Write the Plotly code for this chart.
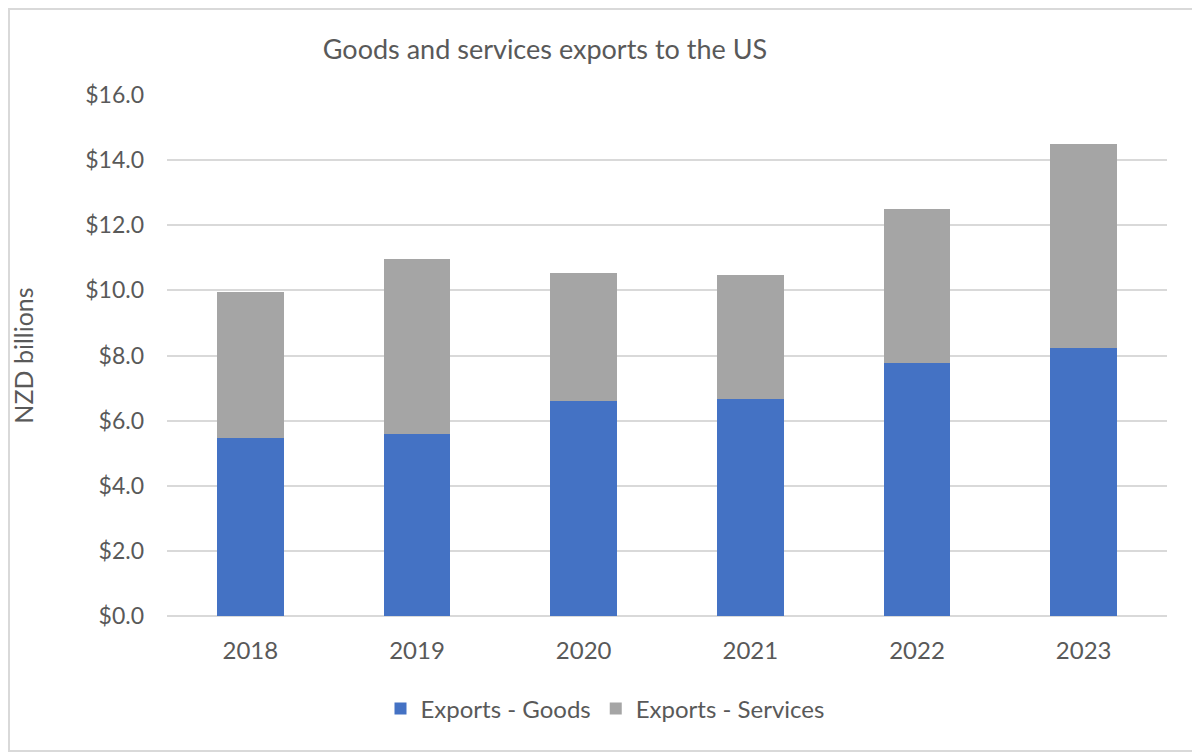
import plotly.graph_objects as go

YEARS = ["2018", "2019", "2020", "2021", "2022", "2023"]
GOODS = [5.48, 5.60, 6.60, 6.67, 7.78, 8.24]
SERVICES = [4.46, 5.36, 3.92, 3.80, 4.72, 6.25]
Y_TICKS = [0, 2, 4, 6, 8, 10, 12, 14, 16]
Y_TICK_LABELS = [f"${v:.1f}" for v in Y_TICKS]

# the page body adds an 8px margin, so the figure is drawn 8px smaller
PAGE_PAD = 8
WIDTH, HEIGHT = 1200 - PAGE_PAD, 754 - PAGE_PAD
MARGIN = {"l": 167 - PAGE_PAD, "r": 33, "t": 95 - PAGE_PAD, "b": 138}
TEXT = "#595959"
GRID = "#D9D9D9"


def build_figure() -> go.Figure:
    fig = go.Figure()
    fig.add_trace(
        go.Bar(
            name="Exports - Goods",
            x=YEARS,
            y=GOODS,
            marker={"color": "#4472C4", "line": {"width": 0}},
        )
    )
    fig.add_trace(
        go.Bar(
            name="Exports - Services",
            x=YEARS,
            y=SERVICES,
            marker={"color": "#A5A5A5", "line": {"width": 0}},
        )
    )

    plot_w = WIDTH - MARGIN["l"] - MARGIN["r"]
    plot_h = HEIGHT - MARGIN["t"] - MARGIN["b"]
    border = {
        "type": "rect",
        "xref": "paper",
        "yref": "paper",
        "x0": (1 - MARGIN["l"]) / plot_w,
        "x1": (WIDTH - 2 - MARGIN["l"]) / plot_w,
        "y0": -(MARGIN["b"] - 3) / plot_h,
        "y1": 1 + (MARGIN["t"] - 1) / plot_h,
        "line": {"color": GRID, "width": 2},
        "layer": "below",
    }

    fig.update_layout(
        width=WIDTH,
        height=HEIGHT,
        barmode="stack",
        bargap=0.6,
        paper_bgcolor="white",
        plot_bgcolor="white",
        font={"family": "Lato", "color": TEXT, "size": 23},
        margin=MARGIN,
        title={
            "text": "Goods and services exports to the US",
            "x": (545 - PAGE_PAD) / WIDTH,
            "xanchor": "center",
            "y": 1 - (50 - PAGE_PAD) / HEIGHT,
            "yanchor": "middle",
            "font": {"size": 27, "color": TEXT},
        },
        xaxis={
            "showgrid": False,
            "showline": False,
            "zeroline": False,
            "tickfont": {"size": 24},
            "ticklabelstandoff": 18,
        },
        yaxis={
            "range": [0, 16],
            "tickvals": Y_TICKS,
            "ticktext": Y_TICK_LABELS,
            "showgrid": True,
            "gridcolor": GRID,
            "gridwidth": 2,
            "zeroline": True,
            "zerolinecolor": GRID,
            "zerolinewidth": 2,
            "tickfont": {"size": 23},
            "ticklabelstandoff": 22,
            "title": {"text": "NZD billions", "standoff": 46, "font": {"size": 25}},
        },
        legend={
            "orientation": "h",
            "x": (605 - 167) / plot_w,
            "xanchor": "center",
            "y": (616 - 709) / plot_h,
            "yanchor": "middle",
            "font": {"size": 24},
            "traceorder": "normal",
        },
        shapes=[border],
    )
    return fig


if __name__ == "__main__":
    fig = build_figure()
    fig.write_html("out.html")
